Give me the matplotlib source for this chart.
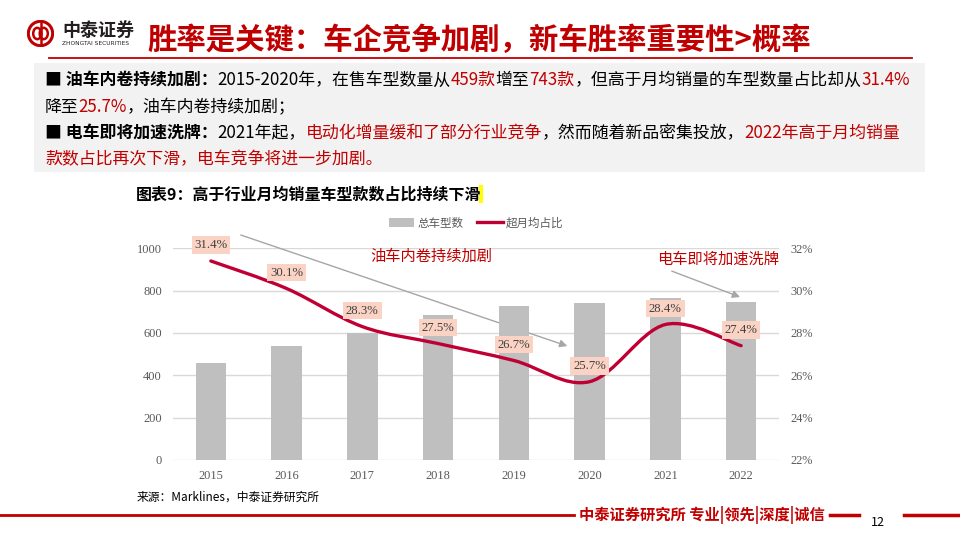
import matplotlib
matplotlib.use('Agg')
import matplotlib.pyplot as plt
import numpy as np
from matplotlib.path import Path
from matplotlib.patches import PathPatch, Rectangle, Circle, Ellipse, Patch
from matplotlib.lines import Line2D

plt.rcParams['font.family'] = ['Noto Sans CJK SC', 'DejaVu Sans']

# Data
years = ['2015', '2016', '2017', '2018', '2019', '2020', '2021', '2022']
model_count = [458, 538, 598, 683, 727, 743, 763, 748]
share_pct = [31.4, 30.1, 28.3, 27.5, 26.7, 25.7, 28.4, 27.4]
left_ticks = [0, 200, 400, 600, 800, 1000]
right_ticks = [22, 24, 26, 28, 30, 32]

RED = '#C00000'
LINE_RED = '#C00034'
BAR_GRAY = '#BFBFBF'
TICK_GRAY = '#595959'
LABEL_BG = '#FBD3C4'

W, H = 960, 540
fig = plt.figure(figsize=(9.6, 5.4), dpi=100)
renderer = fig.canvas.get_renderer()


def fx(px):
    return px / W


def fy(py):
    return 1 - py / H


def run_text(x_px, y_px, parts, size=12.2):
    # draw text segments one after another on the same baseline
    x = fx(x_px)
    for s, color, weight in parts:
        t = fig.text(x, fy(y_px), s, color=color, fontsize=size,
                     fontweight=weight, va='center', ha='left')
        bb = t.get_window_extent(renderer=renderer)
        x = fig.transFigure.inverted().transform((bb.x1, 0))[0]


# ---- header ----
logo_ax = fig.add_axes([fx(27), fy(47), fx(27), 27 / H])
logo_ax.set_xlim(0, 1)
logo_ax.set_ylim(0, 1)
logo_ax.set_aspect('equal')
logo_ax.axis('off')
logo_ax.add_patch(Circle((0.5, 0.5), 0.45, fill=False, ec=RED, lw=2.2))
logo_ax.add_patch(Ellipse((0.38, 0.5), 0.3, 0.42, fill=False, ec=RED, lw=1.8))
logo_ax.add_patch(Ellipse((0.62, 0.5), 0.3, 0.42, fill=False, ec=RED, lw=1.8))
logo_ax.plot([0.5, 0.5], [0.08, 0.92], color=RED, lw=1.8)

fig.text(fx(62), fy(30), '中泰证券', fontsize=13, fontweight='bold',
         color='#231F20', va='center')
fig.text(fx(62), fy(43.5), 'ZHONGTAI SECURITIES', fontsize=4.2,
         color='#231F20', va='center', family='DejaVu Sans')

fig.text(fx(147), fy(40), '胜率是关键：车企竞争加剧，新车胜率重要性>概率',
         color=RED, fontsize=21.2, fontweight='bold', va='center')
fig.add_artist(Line2D([fx(49), fx(912)], [fy(57.5)] * 2, color=RED, lw=1.3))

# ---- summary box ----
fig.add_artist(Rectangle((fx(34), fy(172)), fx(925) - fx(34), (172 - 63) / H,
                         facecolor='#F2F2F2', edgecolor='none',
                         transform=fig.transFigure, zorder=0))

run_text(45, 80, [('■ 油车内卷持续加剧：', 'black', 'bold'),
                  ('2015-2020年，在售车型数量从', 'black', 'normal'),
                  ('459款', RED, 'normal'),
                  ('增至', 'black', 'normal'),
                  ('743款', RED, 'normal'),
                  ('，但高于月均销量的车型数量占比却从', 'black', 'normal'),
                  ('31.4%', RED, 'normal')])
run_text(45, 107, [('降至', 'black', 'normal'),
                   ('25.7%', RED, 'normal'),
                   ('，油车内卷持续加剧；', 'black', 'normal')])
run_text(45, 133, [('■ 电车即将加速洗牌：', 'black', 'bold'),
                   ('2021年起，', 'black', 'normal'),
                   ('电动化增量缓和了部分行业竞争', RED, 'normal'),
                   ('，然而随着新品密集投放，', 'black', 'normal'),
                   ('2022年高于月均销量', RED, 'normal')])
run_text(45, 159, [('款数占比再次下滑，电车竞争将进一步加剧。', RED, 'normal')])

# ---- chart title ----
fig.text(fx(136), fy(195), '图表9：高于行业月均销量车型款数占比持续下滑',
         fontsize=11.5, fontweight='bold', color='black', va='center')
fig.add_artist(Rectangle((fx(479), fy(203)), fx(4), 18 / H, facecolor='#FFFF00',
                         edgecolor='none', transform=fig.transFigure))

# ---- chart ----
ax = fig.add_axes([fx(173), fy(460), (779 - 173) / W, (460 - 248.3) / H])
x = np.arange(len(years))
ax.bar(x, model_count, width=0.4, color=BAR_GRAY, zorder=2)
ax.set_xlim(-0.5, 7.5)
ax.set_ylim(0, 1000)
ax.set_yticks(left_ticks)
ax.set_xticks(x, years)
ax.set_axisbelow(True)
ax.grid(axis='y', color='#D9D9D9', lw=1)
for sp in ax.spines.values():
    sp.set_visible(False)
ax.tick_params(axis='y', length=0, colors=TICK_GRAY, labelsize=8.9, pad=8)
ax.tick_params(axis='x', length=0, colors=TICK_GRAY, labelsize=8.9, pad=7)

ax2 = ax.twinx()
ax2.set_ylim(22, 32)
ax2.set_yticks(right_ticks, [f'{v}%' for v in right_ticks])
for sp in ax2.spines.values():
    sp.set_visible(False)
ax2.tick_params(axis='y', length=0, colors=TICK_GRAY, labelsize=8.9, pad=8)

for lbl in ax.get_xticklabels() + ax.get_yticklabels() + ax2.get_yticklabels():
    lbl.set_fontfamily('Liberation Serif')

# smoothed line (Excel-style bezier through the data points)
px_ = x.astype(float)
py_ = np.array(share_pct, dtype=float)
n = len(px_)
verts = [(px_[0], py_[0])]
codes = [Path.MOVETO]
for i in range(n - 1):
    a = i - 1 if i > 0 else i
    d = i + 2 if i + 2 < n else i + 1
    c1 = (px_[i] + (px_[i + 1] - px_[a]) / 6, py_[i] + (py_[i + 1] - py_[a]) / 6)
    c2 = (px_[i + 1] - (px_[d] - px_[i]) / 6, py_[i + 1] - (py_[d] - py_[i]) / 6)
    verts += [c1, c2, (px_[i + 1], py_[i + 1])]
    codes += [Path.CURVE4] * 3
ax2.add_patch(PathPatch(Path(verts, codes), fill=False, edgecolor=LINE_RED,
                        lw=2.4, capstyle='round', zorder=3))

for i, v in enumerate(share_pct):
    ax2.annotate(f'{v}%', (i, v), xytext=(0, 11.5), textcoords='offset points',
                 ha='center', va='center', fontsize=9.2, family='Liberation Serif',
                 color='#404040', zorder=4,
                 bbox=dict(boxstyle='square,pad=0.22', fc=LABEL_BG, ec='none'))

# trend arrows
ax.annotate('', xy=(4.74, 534), xytext=(0.36, 1067), annotation_clip=False,
            arrowprops=dict(arrowstyle='-|>', color='#A6A6A6', lw=1,
                            mutation_scale=11), zorder=1.5)
ax2.annotate('', xy=(7.02, 29.65), xytext=(6.05, 30.97), annotation_clip=False,
             arrowprops=dict(arrowstyle='-|>', color='#A6A6A6', lw=1,
                             mutation_scale=11), zorder=5)

fig.text(fx(370), fy(256), '油车内卷持续加剧', color=RED, fontsize=11, va='center')
fig.text(fx(657), fy(259), '电车即将加速洗牌', color=RED, fontsize=11, va='center')

handles = [Patch(facecolor=BAR_GRAY, label='总车型数'),
           Line2D([], [], color=LINE_RED, lw=2.4, label='超月均占比')]
fig.legend(handles=handles, loc='center', bbox_to_anchor=(fx(476), fy(223)),
           ncol=2, frameon=False, fontsize=8.3, handlelength=2.2,
           handleheight=0.7, handletextpad=0.3, columnspacing=1.2,
           labelcolor=TICK_GRAY)

# ---- footer ----
fig.text(fx(137), fy(497), '来源：Marklines，中泰证券研究所', fontsize=8.5,
         color='black', va='center')
fig.add_artist(Line2D([0, fx(574)], [fy(515)] * 2, color=RED, lw=2))
fig.text(fx(579), fy(515), '中泰证券研究所 专业|领先|深度|诚信', color=RED,
         fontsize=11, fontweight='bold', va='center')
fig.add_artist(Line2D([fx(830), fx(859)], [fy(515)] * 2, color=RED, lw=2.5))
fig.text(fx(878), fy(523), '12', fontsize=9, color='black', ha='center', va='center')
fig.add_artist(Line2D([fx(904), 1], [fy(515)] * 2, color=RED, lw=2.5))

fig.savefig('out.png', dpi=100)
